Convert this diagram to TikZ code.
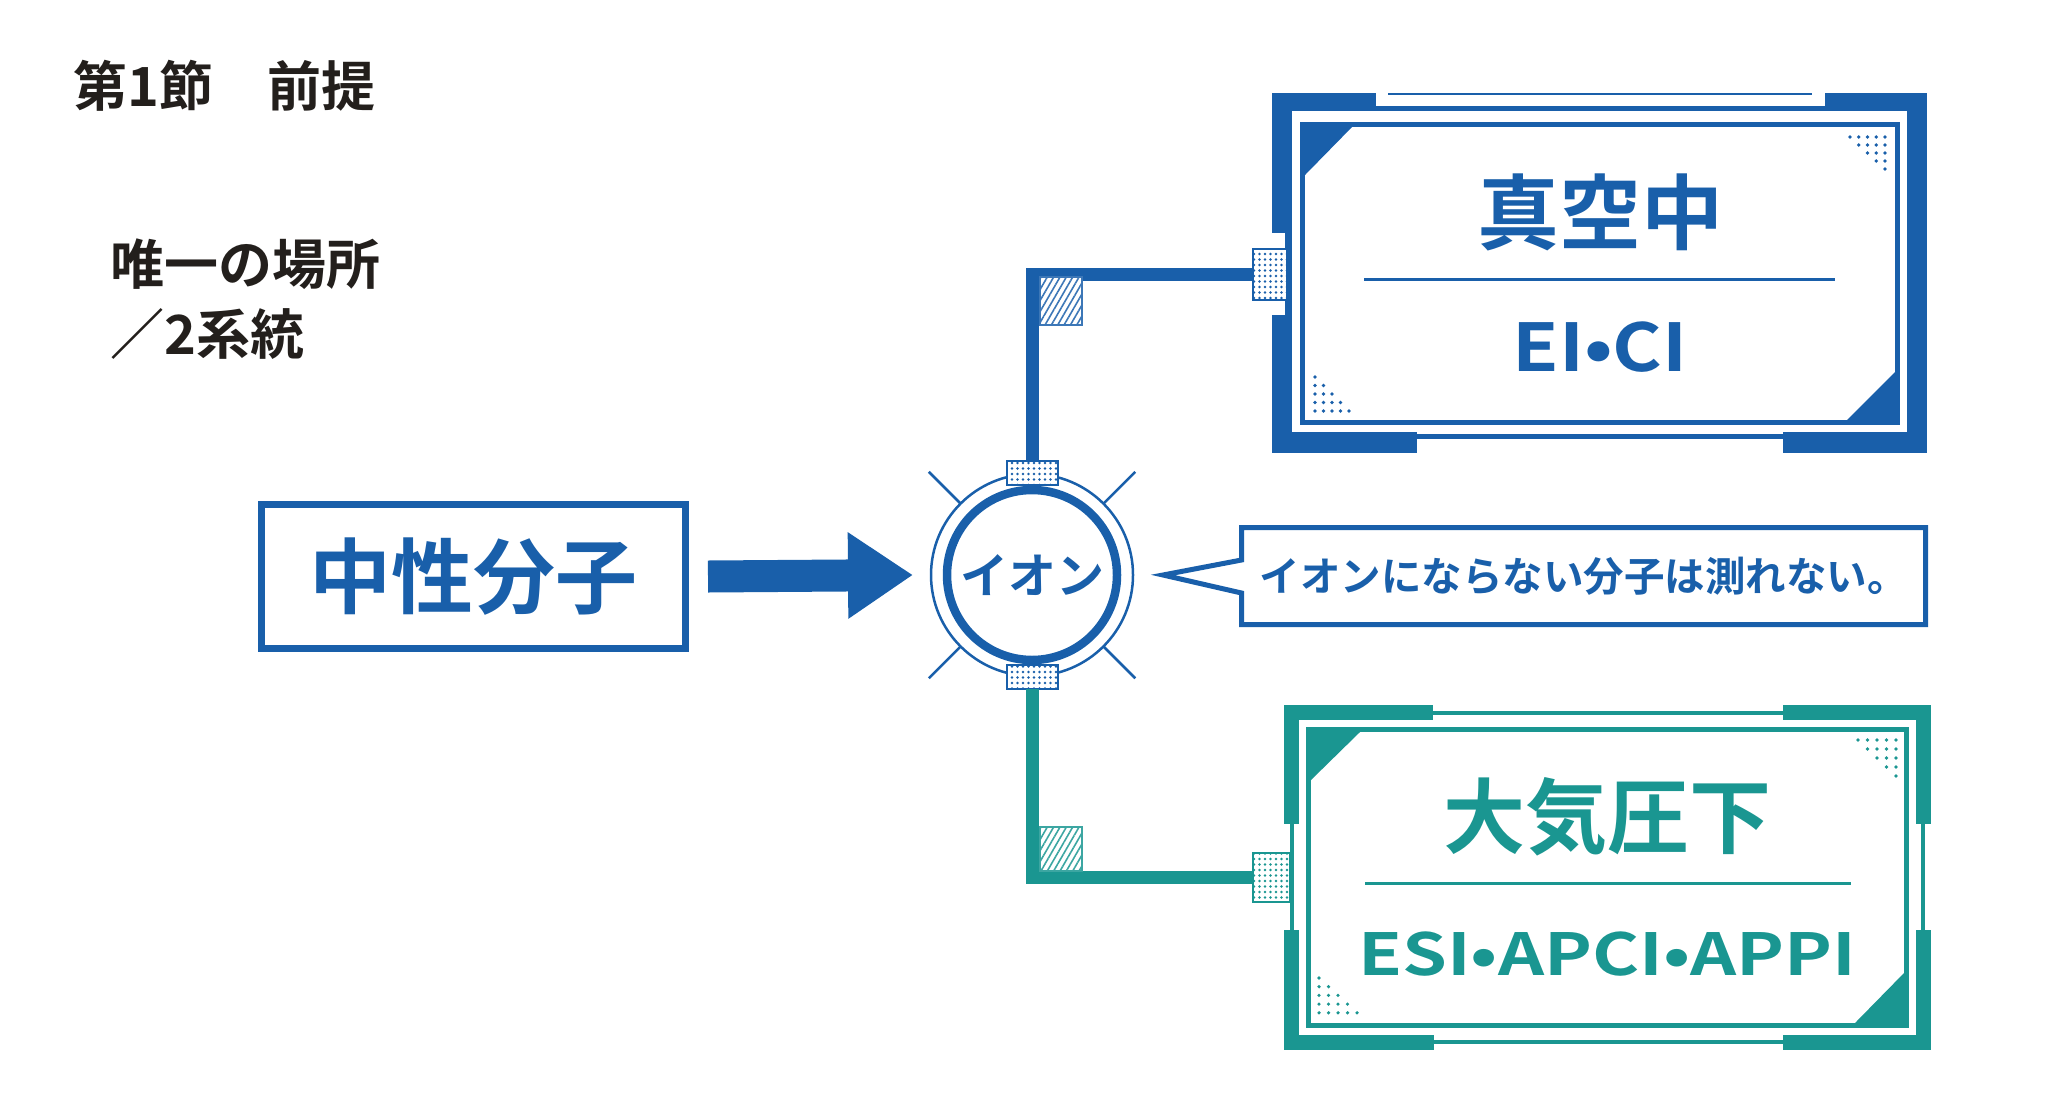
\documentclass[tikz,border=0pt]{standalone}
\usepackage{fontspec}
\usepackage{graphicx}
\setmainfont{Noto Sans CJK JP}[BoldFont={Noto Sans CJK JP Bold}]
\usetikzlibrary{arrows.meta,positioning,patterns.meta}
\definecolor{ionblue}{RGB}{25,95,170}
\definecolor{ionteal}{RGB}{26,150,145}
\definecolor{titleblack}{RGB}{35,31,28}
\tikzset{
  titel/.style={
    anchor=west,
    text=titleblack,
    inner sep=0pt,
    font=\fontsize{54}{70}\selectfont\bfseries
  },
  kasten/.style={
    draw=ionblue,
    line width=7pt,
    minimum width=424pt,
    minimum height=144pt,
    inner sep=0pt,
    outer sep=0pt,
    text=ionblue,
    font=\fontsize{82}{82}\selectfont\bfseries
  },
  ionring/.style={
    circle,
    draw=ionblue,
    line width=8.5pt,
    minimum size=170pt,
    inner sep=0pt,
    outer sep=0pt,
    text=ionblue,
    font=\fontsize{48}{48}\selectfont\bfseries
  },
  haupt/.style={
    inner sep=0pt,
    font=\fontsize{82}{82}\selectfont\bfseries
  },
  unter/.style={
    inner sep=0pt,
    font=\fontsize{66}{66}\selectfont\bfseries
  },
  sprechblase/.style={
    minimum width=684pt,
    minimum height=97pt,
    inner sep=0pt,
    outer sep=0pt,
    text=ionblue,
    font=\fontsize{40.5}{40.5}\selectfont\bfseries
  },
  stecker/.style={
    draw=#1,
    line width=2pt,
    inner sep=0pt,
    outer sep=0pt,
    preaction={fill=white},
    pattern={Dots[distance=5.5pt,radius=1.4pt]},
    pattern color=#1
  },
  schraffur/.style={
    draw=#1!85,
    line width=1.5pt,
    minimum width=42pt,
    inner sep=0pt,
    outer sep=0pt,
    preaction={fill=white},
    pattern={Lines[angle=60,distance=5.5pt,line width=1.6pt]},
    pattern color=#1!85
  },
  leitung/.style={
    line width=13pt,
    #1
  },
  blockpfeil/.style={
    -{Triangle[length=65pt,width=82pt]},
    line width=32pt,
    ionblue
  }
}
\begin{document}
\begin{tikzpicture}[x=1pt,y=-1pt]
\useasboundingbox (0,0) rectangle (2064,1101);

% linke Seite
\node[titel] (kapitel) at (73,86) {第1節　前提};
\node[titel,align=left] (ort) at (110,299) {唯一の場所\\／2系統};
\node[kasten] (neutral) at (473,576.5) {中性分子};

% Ion in der Mitte
\node[ionring] (ion) at (1032,575) {イオン};
\draw[ionblue,line width=2.5pt] (ion.center) circle[radius=101];
\foreach \a in {45,135,225,315}
  \draw[ionblue,line width=2.5pt] ([shift={(\a:101)}]ion.center) -- ([shift={(\a:146)}]ion.center);
\node[stecker=ionblue,minimum width=51pt,minimum height=24pt] (obenstecker) at (1032,473) {};
\node[stecker=ionblue,minimum width=51pt,minimum height=24pt] (untenstecker) at (1032,677) {};
\draw[blockpfeil] ([xshift=23pt]neutral.east) -- ([xshift=-34pt]ion.west);

% Rahmen oben (blau)
\fill[ionblue] (1272,93) rectangle (1292,233);
\fill[ionblue] (1272,315) rectangle (1292,453);
\fill[ionblue] (1285,233) rectangle (1292,315);
\fill[ionblue] (1907,93) rectangle (1927,453);
\fill[ionblue] (1272,93) rectangle (1376,110);
\fill[ionblue] (1825,93) rectangle (1927,110);
\fill[ionblue] (1292,106) rectangle (1907,111);
\draw[ionblue,line width=2pt] (1388,94) -- (1812,94);
\fill[ionblue] (1272,432) rectangle (1417,453);
\fill[ionblue] (1783,432) rectangle (1927,453);
\fill[ionblue] (1292,434) rectangle (1907,439);
\draw[ionblue,line width=5pt] (1302.5,124) rectangle (1897,422.5);
\fill[ionblue] (1305,126) -- (1353,126) -- (1305,175) -- cycle;
\fill[ionblue] (1895,420) -- (1847,420) -- (1895,372) -- cycle;
\foreach \r in {0,...,4}{
  \foreach \c in {\r,...,4}
    \fill[ionblue] ({1885-(4-\c)*8.75},{137+\r*8}) circle[radius=1.8];
  \foreach \c in {0,...,\r}
    \fill[ionblue] ({1315+\c*8.5},{377+\r*8.5}) circle[radius=1.8];
}
\node[haupt,text=ionblue] (vakuum) at (1600,212) {真空中};
\draw[ionblue,line width=3pt] (1364,279) -- (1835,279);
\node[unter,text=ionblue] (eici) at (1600,347) {\scalebox{1.15}[1]{EI•CI}};

% Rahmen unten (tuerkis)
\fill[ionteal] (1284,705) rectangle (1299,824);
\fill[ionteal] (1284,930) rectangle (1299,1050);
\fill[ionteal] (1290,824) rectangle (1294,930);
\fill[ionteal] (1916,705) rectangle (1931,824);
\fill[ionteal] (1916,930) rectangle (1931,1050);
\fill[ionteal] (1921,824) rectangle (1925,930);
\fill[ionteal] (1284,705) rectangle (1433,720);
\fill[ionteal] (1783,705) rectangle (1931,720);
\fill[ionteal] (1433,711) rectangle (1783,715);
\fill[ionteal] (1284,1035) rectangle (1434,1050);
\fill[ionteal] (1783,1035) rectangle (1931,1050);
\fill[ionteal] (1434,1040) rectangle (1783,1044);
\draw[ionteal,line width=5pt] (1308.5,729.5) rectangle (1906.5,1025.5);
\fill[ionteal] (1311,732) -- (1360,732) -- (1311,780) -- cycle;
\fill[ionteal] (1904,1023) -- (1855,1023) -- (1904,973) -- cycle;
\foreach \r in {0,...,4}{
  \foreach \c in {\r,...,4}
    \fill[ionteal] ({1896-(4-\c)*9.5},{740+\r*9}) circle[radius=1.8];
  \foreach \c in {0,...,\r}
    \fill[ionteal] ({1319+\c*9.5},{978+\r*8.7}) circle[radius=1.8];
}
\node[haupt,text=ionteal] (atmo) at (1607,817) {大気圧下};
\draw[ionteal,line width=3pt] (1365,883) -- (1851,883);
\node[unter,text=ionteal,font=\fontsize{58}{58}\selectfont\bfseries] (esi) at (1607,954) {\scalebox{1.24}[1]{ESI•APCI•APPI}};

% Verbindungen
\node[stecker=ionblue,minimum width=34pt,minimum height=51pt] (vakstecker) at (1270,274) {};
\node[stecker=ionteal,minimum width=37pt,minimum height=49pt] (atmstecker) at (1271.5,877.5) {};
\draw[leitung=ionblue] (obenstecker.north) |- (vakstecker.west);
\draw[leitung=ionteal] (untenstecker.south) |- (atmstecker.west);
\node[schraffur=ionblue,minimum height=48pt] (vakschraffur) at (1061,301) {};
\node[schraffur=ionteal,minimum height=44pt] (atmschraffur) at (1061,849) {};

% Hinweis
\node[sprechblase] (hinweis) at (1583.5,576) {イオンにならない分子は測れない。};
\coordinate (spitze) at (1163,575);
\draw[ionblue,line width=5pt] ([yshift=16pt]hinweis.west) -- (hinweis.north west) -- (hinweis.north east)
  -- (hinweis.south east) -- (hinweis.south west) -- ([yshift=-17pt]hinweis.west) -- (spitze) -- cycle;
\end{tikzpicture}
\end{document}
